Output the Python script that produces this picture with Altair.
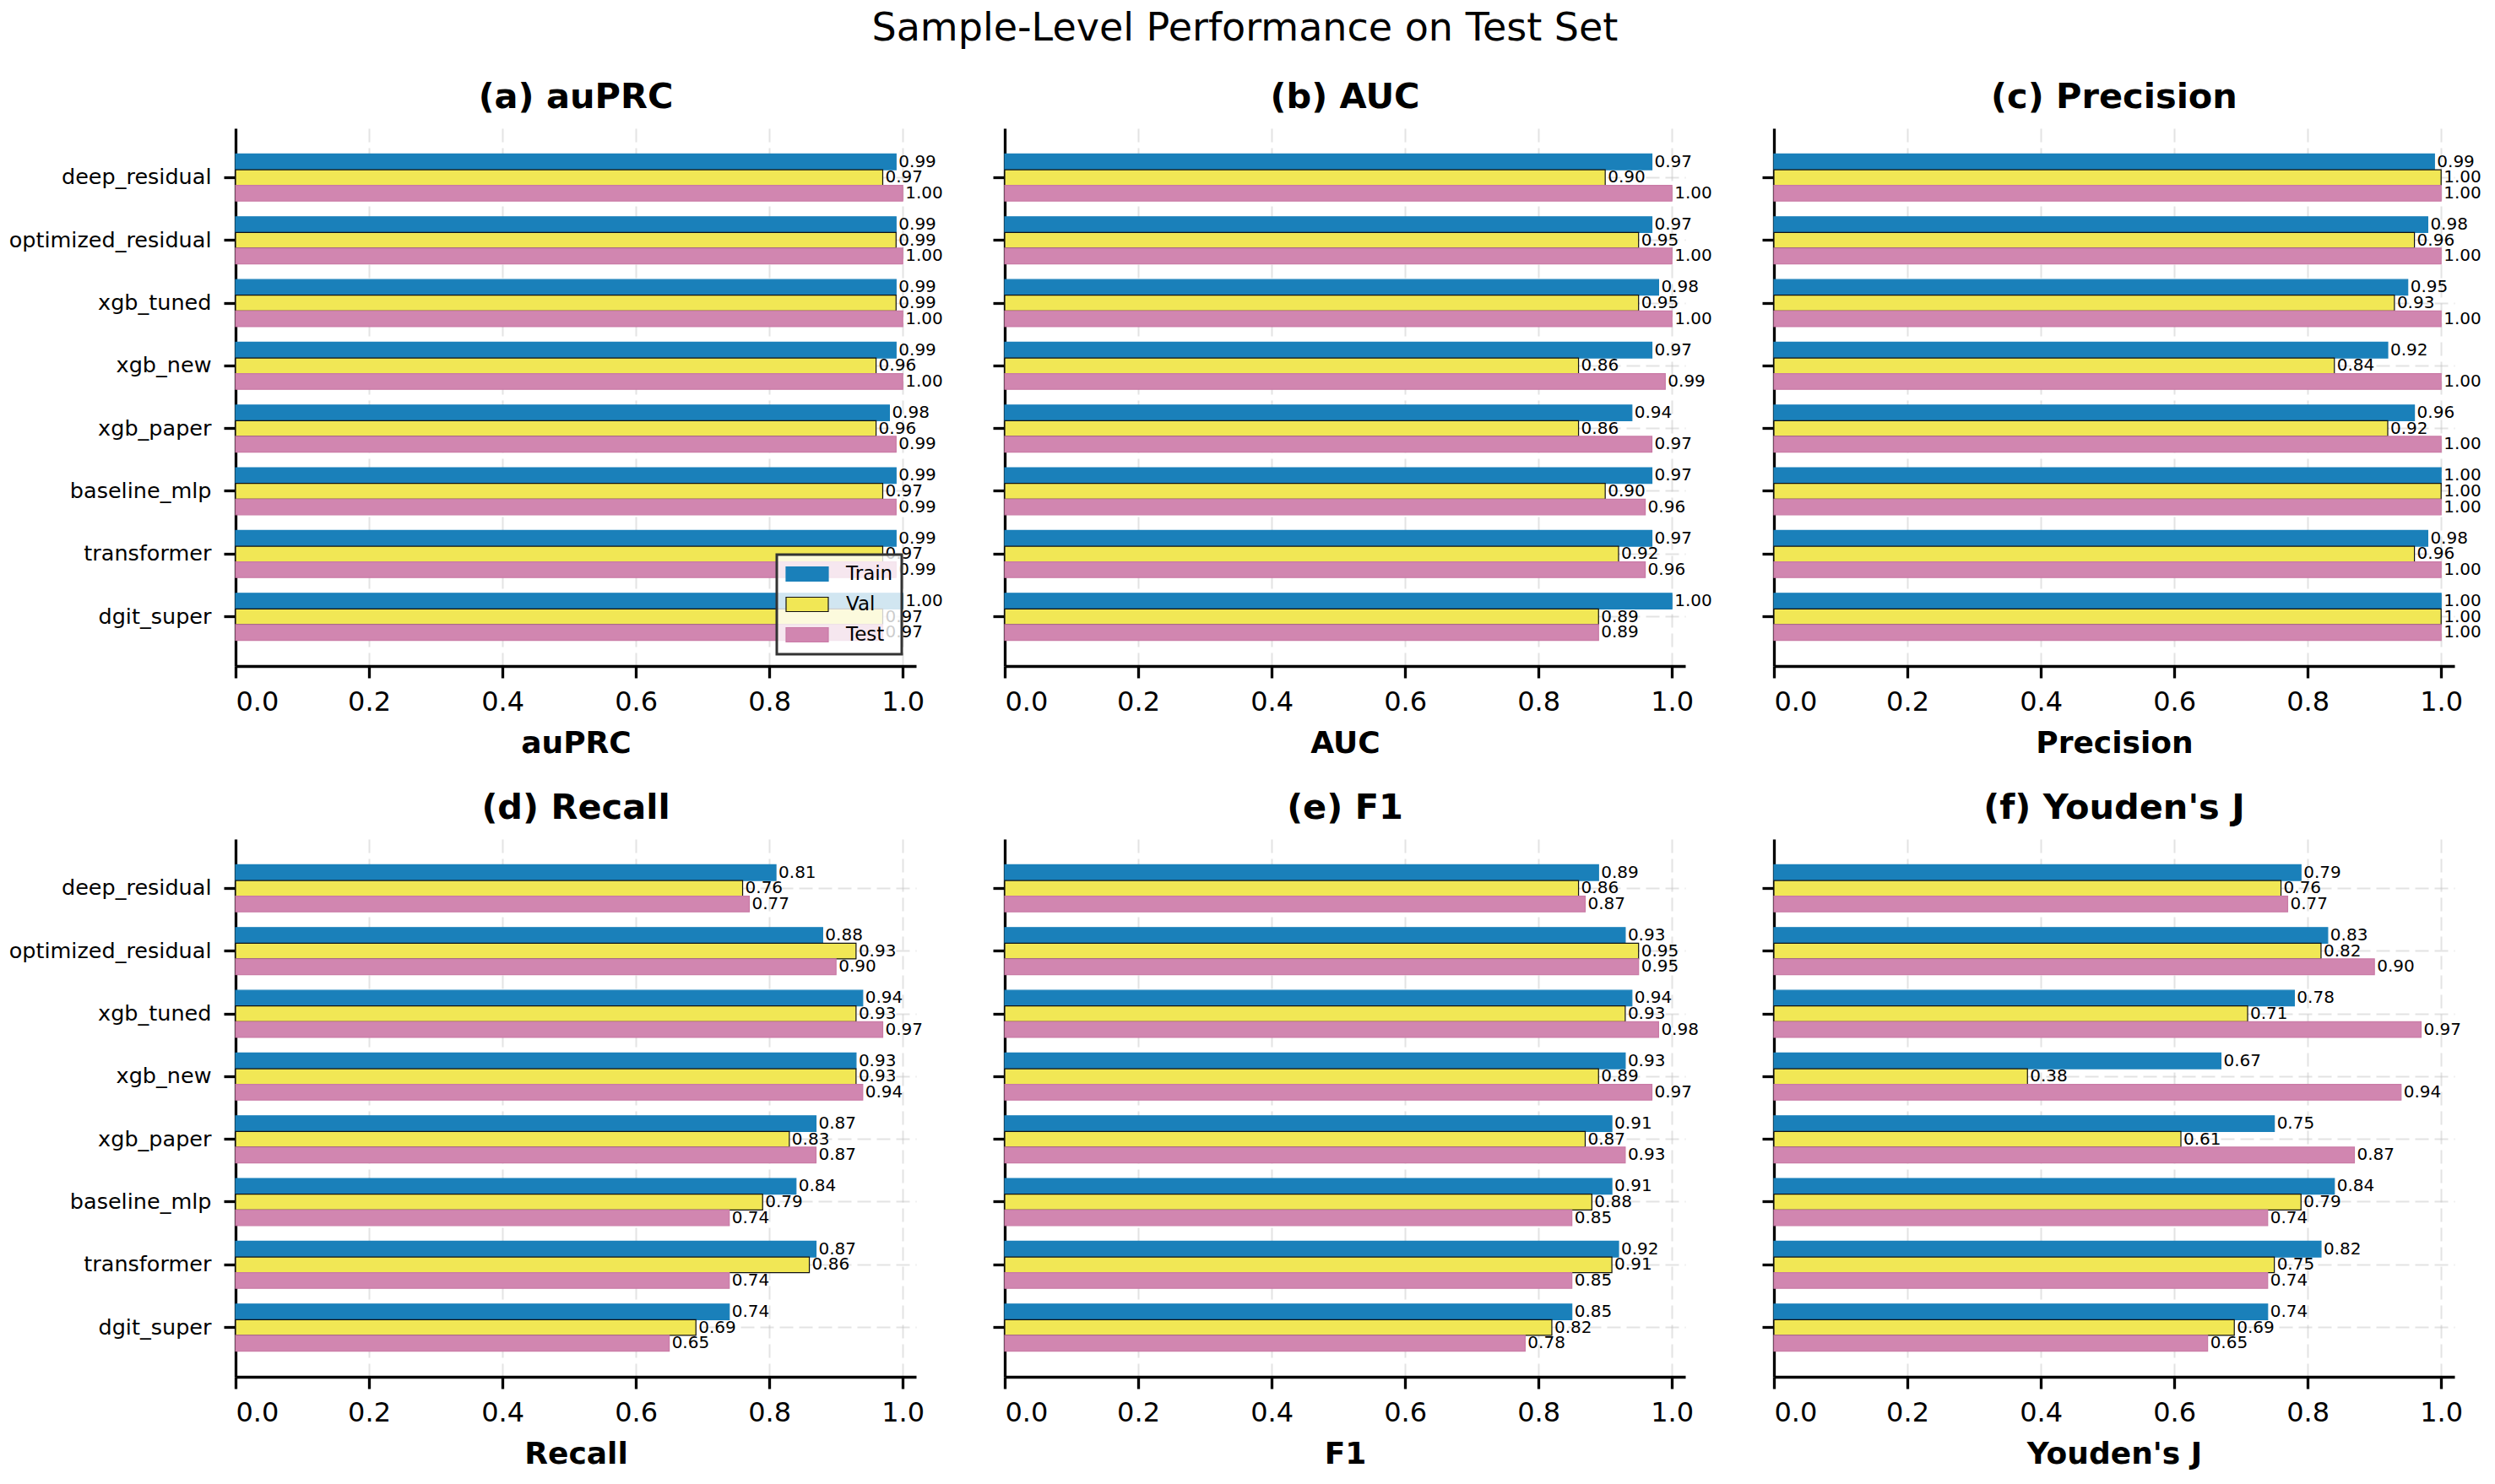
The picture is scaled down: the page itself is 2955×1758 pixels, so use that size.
import altair as alt
import pandas as pd

models = ["deep_residual", "optimized_residual", "xgb_tuned", "xgb_new",
          "xgb_paper", "baseline_mlp", "transformer", "dgit_super"]
splits = ["Train", "Val", "Test"]

auprc_train = [0.99, 0.99, 0.99, 0.99, 0.98, 0.99, 0.99, 1.00]
auprc_val = [0.97, 0.99, 0.99, 0.96, 0.96, 0.97, 0.97, 0.97]
auprc_test = [1.00, 1.00, 1.00, 1.00, 0.99, 0.99, 0.99, 0.97]

auc_train = [0.97, 0.97, 0.98, 0.97, 0.94, 0.97, 0.97, 1.00]
auc_val = [0.90, 0.95, 0.95, 0.86, 0.86, 0.90, 0.92, 0.89]
auc_test = [1.00, 1.00, 1.00, 0.99, 0.97, 0.96, 0.96, 0.89]

prec_train = [0.99, 0.98, 0.95, 0.92, 0.96, 1.00, 0.98, 1.00]
prec_val = [1.00, 0.96, 0.93, 0.84, 0.92, 1.00, 0.96, 1.00]
prec_test = [1.00, 1.00, 1.00, 1.00, 1.00, 1.00, 1.00, 1.00]

recall_train = [0.81, 0.88, 0.94, 0.93, 0.87, 0.84, 0.87, 0.74]
recall_val = [0.76, 0.93, 0.93, 0.93, 0.83, 0.79, 0.86, 0.69]
recall_test = [0.77, 0.90, 0.97, 0.94, 0.87, 0.74, 0.74, 0.65]

f1_train = [0.89, 0.93, 0.94, 0.93, 0.91, 0.91, 0.92, 0.85]
f1_val = [0.86, 0.95, 0.93, 0.89, 0.87, 0.88, 0.91, 0.82]
f1_test = [0.87, 0.95, 0.98, 0.97, 0.93, 0.85, 0.85, 0.78]

youden_train = [0.79, 0.83, 0.78, 0.67, 0.75, 0.84, 0.82, 0.74]
youden_val = [0.76, 0.82, 0.71, 0.38, 0.61, 0.79, 0.75, 0.69]
youden_test = [0.77, 0.90, 0.97, 0.94, 0.87, 0.74, 0.74, 0.65]

panels = [
    ("auPRC", "(a) auPRC", auprc_train, auprc_val, auprc_test),
    ("AUC", "(b) AUC", auc_train, auc_val, auc_test),
    ("Precision", "(c) Precision", prec_train, prec_val, prec_test),
    ("Recall", "(d) Recall", recall_train, recall_val, recall_test),
    ("F1", "(e) F1", f1_train, f1_val, f1_test),
    ("Youden's J", "(f) Youden's J", youden_train, youden_val, youden_test),
]

rows = []
for metric, _, tr, va, te in panels:
    for split, vals in zip(splits, (tr, va, te)):
        for m, v in zip(models, vals):
            rows.append({"metric": metric, "model": m, "split": split, "value": v})
df = pd.DataFrame(rows)

FONT = "DejaVu Sans"
fill_scale = alt.Scale(domain=splits, range=["#1a80ba", "#f1e755", "#d186b0"])
stroke_scale = alt.Scale(domain=splits, range=["#1a80ba", "#111111", "#c97aa5"])

PW, PH = 806, 637


def panel(metric, title, show_ylabels, show_legend):
    base = alt.Chart(df).transform_filter(alt.datum.metric == metric)
    y = alt.Y("model:N", sort=models, title=None,
              scale=alt.Scale(paddingInner=0.25, paddingOuter=0.41),
              axis=alt.Axis(labels=show_ylabels, bandPosition=0.5, grid=True))
    yo = alt.YOffset("split:N", sort=splits,
                     scale=alt.Scale(domain=splits, paddingInner=0, paddingOuter=0))
    x = alt.X("value:Q", title=metric,
              scale=alt.Scale(domain=[0, 1.02], nice=False),
              axis=alt.Axis(values=[0, 0.2, 0.4, 0.6, 0.8, 1.0], format=".1f", grid=True))
    if show_legend:
        leg = alt.Legend(title=None, orient="none", legendX=641, legendY=505,
                         symbolType="M-1,-0.34H1V0.34H-1Z", symbolSize=2500,
                         symbolStrokeWidth=1.2, labelFontSize=23, labelFont=FONT,
                         labelColor="black", labelOffset=20, padding=10,
                         clipHeight=26, rowPadding=10, strokeColor="#333333",
                         fillColor="rgba(255,255,255,0.8)", cornerRadius=0)
    else:
        leg = None
    bars = base.mark_bar(strokeWidth=1.2).encode(
        x=x, y=y, yOffset=yo,
        fill=alt.Fill("split:N", scale=fill_scale, sort=splits, legend=leg),
        stroke=alt.Stroke("split:N", scale=stroke_scale, sort=splits, legend=leg),
    )
    texts = base.mark_text(align="left", baseline="middle", dx=3, fontSize=20,
                           font=FONT, color="black").encode(
        x=alt.X("value:Q"), y=alt.Y("model:N", sort=models), yOffset=yo,
        text=alt.Text("value:Q", format=".2f"),
    )
    return alt.layer(bars, texts).properties(
        width=PW, height=PH,
        title=alt.TitleParams(title, fontSize=41.5, fontWeight="bold", font=FONT,
                              color="black", anchor="middle", baseline="alphabetic",
                              offset=-17),
    )


charts = [panel(p[0], p[1], i % 3 == 0, i == 0) for i, p in enumerate(panels)]

chart = alt.concat(*charts, columns=3, spacing={"row": 205, "column": 105},
                   bounds="flush").properties(
    title=alt.TitleParams("Sample-Level Performance on Test Set", fontSize=46,
                          fontWeight="normal", font=FONT, color="black",
                          anchor="middle", baseline="alphabetic", offset=1),
    padding={"left": 10, "top": 10, "right": 10, "bottom": 10},
    background="white",
).configure_view(stroke=None).configure_axis(
    domainColor="black", domainWidth=3.3, tickColor="black", tickWidth=3.3,
    tickSize=14, labelColor="black", labelFont=FONT, titleFont=FONT,
    titleColor="black", gridColor="#c0c0c0", gridDash=[16, 7], gridWidth=2,
    gridOpacity=0.45, zindex=1,
).configure_axisX(
    labelFontSize=32, labelPadding=13, titleFontSize=36, titleFontWeight="bold",
    titlePadding=16,
).configure_axisY(
    labelFontSize=25.5, labelPadding=15, labelLimit=500,
).configure_legend(strokeWidth=3)

chart.save("out.html", embed_options={"renderer": "svg", "actions": False})
